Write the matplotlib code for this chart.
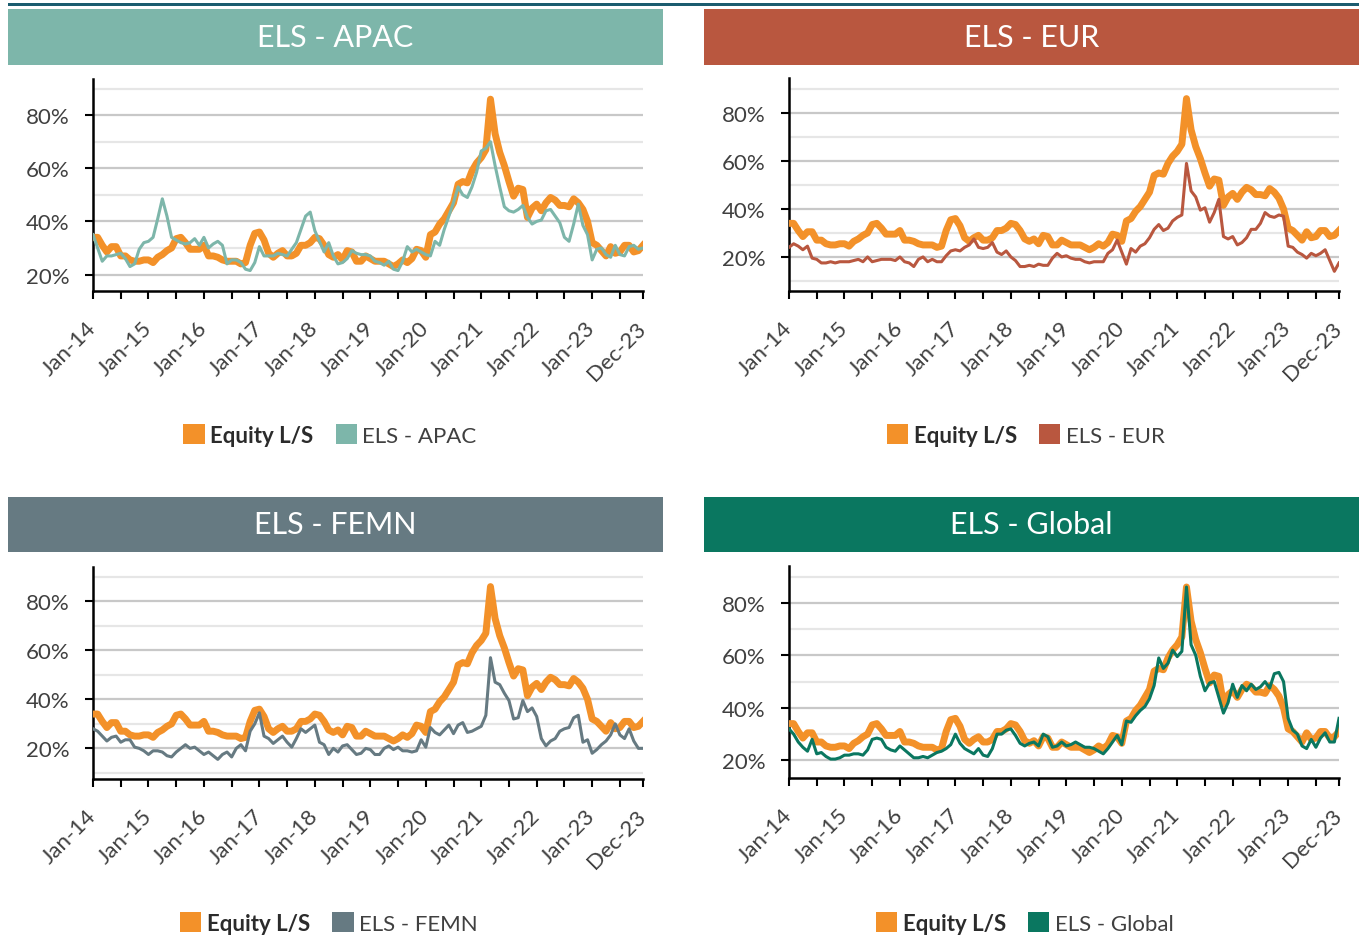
import numpy as np
import matplotlib.pyplot as plt
from matplotlib.patches import Patch, Rectangle
from matplotlib.transforms import ScaledTranslation

plt.rcParams['font.family'] = ['Lato', 'DejaVu Sans']

W, H = 1359, 937

# monthly values, Jan-14 .. Dec-23 (percent)
equity_ls = [
    34, 34, 31, 28.5, 30.5, 30.5, 27, 27, 25.5, 25, 25, 25.5,
    25.5, 24.5, 26.5, 27.5, 29, 30, 33.5, 34, 32, 29.5, 29.5, 29.5,
    31, 27, 27, 26.5, 25.5, 25, 25, 25, 24, 24.5, 31, 35.5,
    36, 33, 28, 26.5, 28, 29, 27, 27, 28, 31, 31, 32,
    34, 33.5, 31, 27.5, 26.5, 27.5, 25.5, 29, 28.5, 25, 25, 27,
    26, 25, 25, 25, 24, 23, 24, 25.5, 24.5, 26, 29.5, 29,
    26.5, 35, 36, 39, 41, 44, 47, 54, 55, 54.5, 59, 62,
    64, 67, 86, 73, 66, 61, 55, 49.5, 52.5, 52, 41.5, 45,
    46.5, 44, 47, 49, 48, 46, 46, 45.5, 48.5, 47, 44.5, 40,
    32, 31, 29, 27, 30.5, 28, 28.5, 31, 31, 28.5, 29, 31,
]

els_apac = [
    35, 30, 25, 27, 27, 27.5, 28, 26, 23, 24, 29.5, 32,
    32.5, 34, 41, 48.5, 42, 34, 33, 32, 31.5, 32, 33.5, 31,
    34, 30, 31.5, 32.5, 31, 24, 25.5, 25.5, 24.5, 22, 21.5, 24.5,
    30.5, 27, 27, 27, 28, 27.5, 27, 29.5, 32, 37, 42, 43.5,
    36.5, 32.5, 28.5, 32, 27, 24, 24.5, 26, 29, 28, 27.5, 27.5,
    27, 25, 24.5, 23.5, 25, 22, 21.5, 25, 30.5, 28.5, 29.5, 28.5,
    27.5, 27, 32.5, 31, 37, 42, 47, 53, 50, 49, 53, 58.5,
    66.5, 67.5, 70, 61, 53, 45.5, 44, 43.5, 44.5, 46, 41.5, 39,
    40, 40.5, 44, 44.5, 42, 39.5, 34, 32.5, 39, 46.5, 38.5, 35,
    25.5, 29.5, 30, 27.5, 26.5, 31, 27.5, 27, 30.5, 31, 29.5, 30,
]

els_eur = [
    24, 25.5, 24.5, 23, 24.5, 19.5, 19, 17.5, 17.5, 18, 17.5, 18,
    18, 18, 18.5, 19, 18, 20, 18, 18.5, 19, 19, 19, 18.5,
    20, 18, 17.5, 16, 19, 20, 18, 19, 18, 18, 20.5, 22.5,
    23, 22.5, 24, 25, 27.5, 24, 23.5, 24, 26, 22, 21, 22.5,
    20, 18.5, 16, 16, 16.5, 16, 17, 16.5, 16.5, 19.5, 21.5, 20,
    20.5, 19.5, 19, 19, 18, 17.5, 18, 18, 18, 21.5, 23, 27,
    22, 17, 23.5, 22, 24.5, 25.5, 28, 31.5, 33.5, 31, 32, 35,
    36.5, 37.5, 59, 47.5, 45, 39.5, 40.5, 34.5, 38.5, 44, 28.5, 27.5,
    28.5, 25, 26, 28, 31.5, 31.5, 34, 38.5, 37, 36.5, 37.5, 37,
    24.5, 24, 22, 21, 19.5, 21.5, 20.5, 21.5, 23, 18.5, 14, 17.5,
]

els_femn = [
    28, 27, 25, 23, 24.5, 25, 22.5, 23.5, 23.5, 20.5, 20, 19,
    17.5, 19, 19, 18.5, 17, 16.5, 18.5, 20, 21.5, 20, 20.5, 19,
    17.5, 18.5, 17, 15.5, 17.5, 18.5, 16.5, 20, 21.5, 19, 27, 30,
    34.5, 25, 24, 22, 23.5, 25, 22.5, 20.5, 24, 28, 26.5, 28,
    29.5, 22.5, 21.5, 17.5, 20, 18.5, 21, 21.5, 19.5, 17.5, 18, 20,
    19.5, 17.5, 17.5, 20, 21, 19.5, 20.5, 19, 19, 18.5, 19, 23.5,
    20.5, 28.5, 26.5, 25.5, 27.5, 29.5, 26, 29.5, 30.5, 26.5, 27, 28,
    29, 33.5, 57, 47, 46, 42.5, 39.5, 32, 32.5, 39.5, 35, 36.5,
    33, 24, 21, 23, 24, 27, 28, 28.5, 32.5, 33.5, 22.5, 23.5,
    18, 19.5, 21.5, 23, 25.5, 30, 25.5, 24, 28, 23, 20, 20,
]

els_global = [
    32, 30, 27, 25, 23.5, 28, 22.5, 23, 21.5, 20.5, 20.5, 21,
    22, 22, 22.5, 22.5, 22, 24, 28, 28.5, 28, 25, 24, 23.5,
    25.5, 24, 22.5, 21, 21, 21.5, 21, 22, 23, 23.5, 24.5, 26,
    30, 26.5, 24.5, 23.5, 22.5, 24.5, 22, 21.5, 24.5, 30, 30, 31.5,
    32, 29.5, 26.5, 25.5, 26.5, 27, 25.5, 30, 29, 25, 25.5, 27,
    25.5, 26, 27, 26, 25, 25, 24.5, 23.5, 22.5, 24.5, 27, 29.5,
    26, 35, 34.5, 37, 39, 40.5, 43.5, 48.5, 59, 55, 57, 62,
    59.5, 61.5, 86, 64, 60, 52, 46.5, 49.5, 50, 44, 38, 42,
    49, 44, 48.5, 46.5, 49, 47, 48, 50, 47.5, 53, 53.5, 50,
    36, 31.5, 30, 25.5, 24.5, 28, 25, 28.5, 30.5, 27, 27, 36,
]

tick_pos = list(range(0, 120, 6)) + [119]
tick_text = ['Jan-14', '', 'Jan-15', '', 'Jan-16', '', 'Jan-17', '', 'Jan-18', '',
             'Jan-19', '', 'Jan-20', '', 'Jan-21', '', 'Jan-22', '', 'Jan-23', '',
             'Dec-23']

ORANGE = '#f39129'

# title, series, colour, y-limits, header box (px), plot box (px), legend centre (px)
panels = [
    ('ELS - APAC', els_apac, '#7db6aa', (13.8, 93.6),
     (8, 10, 663, 66), (93, 80, 643, 292), (330, 436)),
    ('ELS - EUR', els_eur, '#b9573f', (5.8, 94.6),
     (704, 10, 1359, 66), (789, 79, 1339, 292), (1026, 436)),
    ('ELS - FEMN', els_femn, '#667a82', (7.5, 94.0),
     (8, 498, 663, 553), (93, 568, 643, 780), (329, 924)),
    ('ELS - Global', els_global, '#0a7760', (13.3, 94.0),
     (704, 498, 1359, 553), (789, 567, 1339, 779), (1025, 924)),
]


def fig_box(x0, y0, x1, y1):
    return [x0 / W, 1 - y1 / H, (x1 - x0) / W, (y1 - y0) / H]


fig = plt.figure(figsize=(W / 100, H / 100), dpi=100)

# thin rule across the top
fig.add_artist(Rectangle((8 / W, 1 - 7 / H), 1 - 8 / W, 3 / H,
                         transform=fig.transFigure, color='#1b5c6f', lw=0))

x = np.arange(len(equity_ls))
label_shift = ScaledTranslation(-7 / 100, 0, fig.dpi_scale_trans)

for title, series, colour, ylim, hbox, pbox, lpos in panels:
    hb = fig_box(*hbox)
    fig.add_artist(Rectangle((hb[0], hb[1]), hb[2], hb[3],
                             transform=fig.transFigure, color=colour, lw=0))
    fig.text(hb[0] + hb[2] / 2, hb[1] + hb[3] / 2, title, color='white',
             fontsize=22, ha='center', va='center')

    ax = fig.add_axes(fig_box(*pbox))
    ax.plot(x, equity_ls, color=ORANGE, lw=5, solid_joinstyle='round', zorder=3)
    ax.plot(x, series, color=colour, lw=2.2, solid_joinstyle='round', zorder=4)

    ax.set_yticks([20, 40, 60, 80])
    ax.set_yticklabels([f'{v}%' for v in [20, 40, 60, 80]])
    ax.set_yticks([10, 30, 50, 70, 90], minor=True)
    ax.set_xticks(tick_pos)
    ax.set_xticklabels(tick_text, rotation=45, ha='right', va='top',
                       rotation_mode='anchor')
    # limits after the ticks, otherwise set_yticks widens the view
    ax.set_xlim(0, 119)
    ax.set_ylim(*ylim)

    ax.grid(axis='y', which='major', color='#c8c8c8', lw=1.6, zorder=0)
    ax.grid(axis='y', which='minor', color='#e6e6e6', lw=1.6, zorder=0)
    ax.set_axisbelow(True)

    for side in ['top', 'right']:
        ax.spines[side].set_visible(False)
    for side in ['left', 'bottom']:
        ax.spines[side].set_linewidth(1.8)
        ax.spines[side].set_color('black')

    ax.tick_params(axis='y', which='major', length=6, width=1.5, pad=11,
                   labelsize=16, labelcolor='#404040')
    ax.tick_params(axis='y', which='minor', length=0)
    ax.tick_params(axis='x', length=6, width=1.5, pad=13,
                   labelsize=16, labelcolor='#404040')
    for lab in ax.get_xticklabels():
        lab.set_transform(lab.get_transform() + label_shift)

    handles = [Patch(facecolor=ORANGE, edgecolor='none'),
               Patch(facecolor=colour, edgecolor='none')]
    leg = fig.legend(handles, ['Equity L/S', title], loc='center',
                     bbox_to_anchor=(lpos[0] / W, 1 - lpos[1] / H),
                     ncol=2, frameon=False, fontsize=16,
                     handlelength=0.95, handleheight=0.95,
                     handletextpad=0.25, columnspacing=1.0)
    texts = leg.get_texts()
    texts[0].set_fontweight('bold')
    texts[0].set_color('#2b2b2b')
    texts[1].set_color('#404040')

fig.savefig('out.png', dpi=100)
